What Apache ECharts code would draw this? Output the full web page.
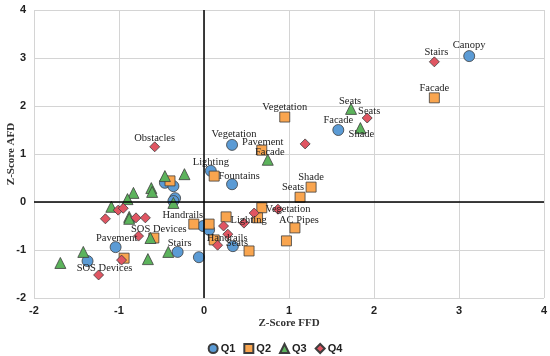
<!DOCTYPE html>
<html>
<head>
<meta charset="utf-8">
<script src="https://cdn.jsdelivr.net/npm/echarts@6/dist/echarts.min.js"></script>
<style>html,body{margin:0;padding:0;background:#fff}#c{width:550px;height:356px}</style>
</head>
<body>
<div id="c"></div>
<script>
// ---- data ----
const xTicks = [-2, -1, 0, 1, 2, 3, 4];
const yTicks = [-2, -1, 0, 1, 2, 3, 4];

const q1Points = [[3.12,3.04],[1.58,1.50],[0.33,1.19],[0.08,0.65],[0.33,0.37],[-0.46,0.40],[-0.36,0.33],[-0.34,0.08],[-0.36,0.02],[-0.01,-0.50],[0.06,-0.58],[0.34,-0.92],[-0.06,-1.15],[-0.31,-1.04],[-1.04,-0.94],[-1.37,-1.23]];
const q1Labels = ['Canopy','Facade','Vegetation','Lighting','','','','','','','','Seats','','Stairs','Pavement','SOS Devices'];

const q2Points = [[2.71,2.17],[0.95,1.77],[0.68,1.08],[0.12,0.54],[-0.40,0.44],[1.26,0.31],[1.13,0.10],[0.68,-0.12],[0.26,-0.31],[0.63,-0.33],[1.07,-0.54],[0.97,-0.81],[0.53,-1.02],[0.06,-0.46],[-0.12,-0.46],[0.12,-0.79],[-0.59,-0.75],[-0.94,-1.17]];
const q2Labels = ['Facade','Vegetation','Pavement','Fountains','','Shade','Seats','','','Lighting','AC Pipes','','','','Handrails','Handrails','SOS Devices',''];

const q3Points = [[1.73,1.94],[1.84,1.54],[0.75,0.88],[-0.46,0.54],[-0.23,0.58],[-0.62,0.29],[-0.61,0.21],[-0.83,0.19],[-0.90,0.06],[-0.36,-0.02],[-1.09,-0.10],[-0.88,-0.31],[-0.88,-0.35],[-0.63,-0.75],[-0.42,-1.04],[-0.66,-1.19],[-1.42,-1.04],[-1.69,-1.27]];
const q3Labels = ['Seats','Shade','Facade','','','','','','','','','','','','','','',''];

const q4Points = [[2.71,2.92],[1.92,1.75],[1.19,1.21],[-0.58,1.15],[0.87,-0.15],[0.59,-0.23],[0.47,-0.44],[0.23,-0.50],[0.28,-0.67],[0.16,-0.90],[-1.01,-0.17],[-0.95,-0.13],[-1.16,-0.35],[-0.80,-0.33],[-0.69,-0.33],[-0.77,-0.71],[-0.97,-1.21],[-1.24,-1.52]];
const q4Labels = ['Stairs','Seats','','Obstacles','Vegetation','','','','','','','','','','','','',''];

// ---- label layout (pixel offsets from marker centre) ----
const labelOffsets = {
  Q1: {Canopy:[0,-11], Facade:[0,-10], Vegetation:[2,-11], Lighting:[0,-9], Seats:[4,-3], Stairs:[2,-9], Pavement:[1,-9], 'SOS Devices':[17,7]},
  Q2: {Facade:[0,-10], Vegetation:[0,-10], Pavement:[1,-8], Fountains:[25,0], Shade:[0,-10], Seats:[-7,-10], Lighting:[-9,2], 'AC Pipes':[4,-8], Handrails:[-11,-9], 'Handrails#2':[13,-2], 'SOS Devices':[5,-9]},
  Q3: {Seats:[-1,-8], Shade:[1,6], Facade:[2,-8]},
  Q4: {Stairs:[2,-10], Seats:[2,-7], Obstacles:[0,-9], Vegetation:[10,0]}
};

function buildData(key, pts, labels) {
  const seen = {};
  return pts.map((p, i) => {
    const name = labels[i];
    const item = { value: p, name: name };
    if (name) {
      seen[name] = (seen[name] || 0) + 1;
      const k = seen[name] > 1 ? name + '#' + seen[name] : name;
      const off = labelOffsets[key][k] || [0, -9];
      item.label = { show: true, position: 'inside', offset: off, formatter: name };
    }
    return item;
  });
}

const labelStyle = { fontFamily: 'Liberation Serif', fontSize: 10.5, color: '#222', align: 'center', verticalAlign: 'middle' };
const border = { borderColor: '#3d3d3d', borderWidth: 0.8 };

const chart = echarts.init(document.getElementById('c'), null, { renderer: 'canvas' });
chart.setOption({
  animation: false,
  backgroundColor: '#fff',
  grid: { left: 34, right: 6, top: 10, bottom: 58, outerBoundsMode: 'none', containLabel: false },
  xAxis: {
    type: 'value', min: xTicks[0], max: xTicks[xTicks.length - 1], interval: 1,
    name: 'Z-Score FFD', nameLocation: 'middle', nameGap: 20, nameMoveOverlap: false,
    nameTextStyle: { fontFamily: 'Liberation Serif', fontWeight: 'bold', fontSize: 11, color: '#333' },
    axisLine: { show: false }, axisTick: { show: false },
    axisLabel: { margin: 7, fontFamily: 'Liberation Sans', fontWeight: 'bold', fontSize: 11, color: '#222' },
    splitLine: { show: true, lineStyle: { color: '#d4d4d4', width: 1 } }
  },
  yAxis: {
    type: 'value', min: yTicks[0], max: yTicks[yTicks.length - 1], interval: 1,
    name: 'Z-Score AFD', nameLocation: 'middle', nameGap: 17, nameMoveOverlap: false,
    nameTextStyle: { fontFamily: 'Liberation Serif', fontWeight: 'bold', fontSize: 11, color: '#333' },
    axisLine: { show: false }, axisTick: { show: false },
    axisLabel: { margin: 8, fontFamily: 'Liberation Sans', fontWeight: 'bold', fontSize: 11, color: '#222' },
    splitLine: { show: true, lineStyle: { color: '#d4d4d4', width: 1 } }
  },
  legend: {
    bottom: -3, left: 'center', itemWidth: 9, itemHeight: 9, itemGap: 8,
    textStyle: { fontFamily: 'Liberation Sans', fontWeight: 'bold', fontSize: 11, color: '#222', padding: [0,0,0,-2] },
    data: ['Q1', 'Q2', 'Q3', 'Q4']
  },
  series: [
    { name: 'Q1', type: 'scatter', symbol: 'circle', symbolSize: 11,
      itemStyle: Object.assign({ color: '#5b9bd5', opacity: 1 }, border),
      label: labelStyle, data: buildData('Q1', q1Points, q1Labels),
      markLine: { silent: true, symbol: ['none', 'none'], label: { show: false },
        lineStyle: { color: '#000', width: 1.5, type: 'solid' },
        data: [{ xAxis: 0 }, { yAxis: 0 }] }, z: 3 },
    { name: 'Q2', type: 'scatter', symbol: 'rect', symbolSize: 10,
      itemStyle: Object.assign({ color: '#f9a54f', opacity: 1 }, border),
      label: labelStyle, data: buildData('Q2', q2Points, q2Labels), z: 3 },
    { name: 'Q3', type: 'scatter', symbol: 'triangle', symbolSize: 11,
      itemStyle: Object.assign({ color: '#5cb35c', opacity: 1 }, border),
      label: labelStyle, data: buildData('Q3', q3Points, q3Labels), z: 3 },
    { name: 'Q4', type: 'scatter', symbol: 'diamond', symbolSize: 10,
      itemStyle: Object.assign({ color: '#e05562', opacity: 1 }, border),
      label: labelStyle, data: buildData('Q4', q4Points, q4Labels), z: 3 }
  ]
});
</script>
</body>
</html>
